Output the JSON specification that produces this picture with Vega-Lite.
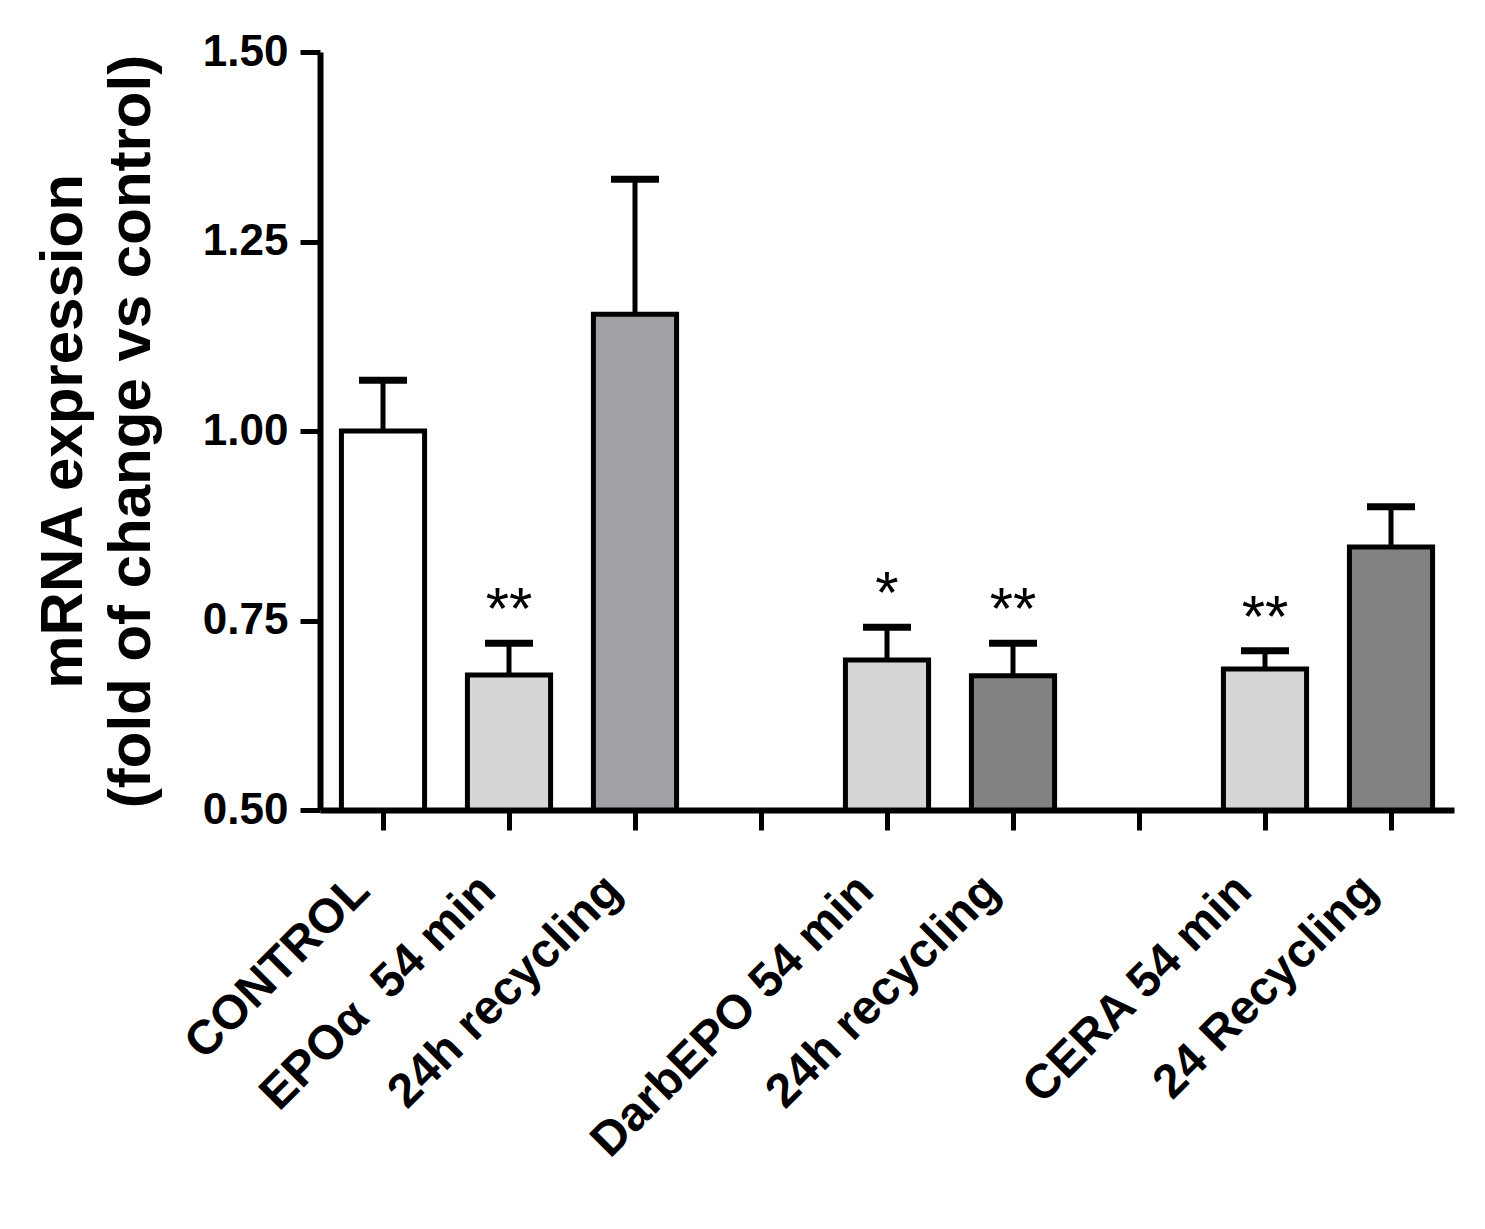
{
  "$schema": "https://vega.github.io/schema/vega-lite/v6.json",
  "width": 1134,
  "height": 758,
  "autosize": "none",
  "padding": {"left": 320, "top": 52, "right": 31, "bottom": 419},
  "background": "white",
  "config": {"view": {"stroke": null}, "font": "Liberation Sans"},
  "data": {
    "values": [
      {"k": "1|CONTROL", "v": 1.0, "hi": 1.067, "grp": "control", "sig": ""},
      {"k": "2|EPOα\u00a0 54 min", "v": 0.678, "hi": 0.72, "grp": "light", "sig": "**"},
      {"k": "3|24h recycling", "v": 1.154, "hi": 1.332, "grp": "mid", "sig": ""},
      {"k": "5|DarbEPO 54 min", "v": 0.698, "hi": 0.741, "grp": "light", "sig": "*"},
      {"k": "6|24h recycling", "v": 0.677, "hi": 0.72, "grp": "dark", "sig": "**"},
      {"k": "8|CERA 54 min", "v": 0.686, "hi": 0.71, "grp": "light", "sig": "**"},
      {"k": "9|24 Recycling", "v": 0.847, "hi": 0.9, "grp": "dark", "sig": ""}
    ]
  },
  "encoding": {
    "x": {
      "field": "k",
      "type": "nominal",
      "sort": null,
      "scale": {
        "domain": ["1|CONTROL", "2|EPOα\u00a0 54 min", "3|24h recycling", "4|", "5|DarbEPO 54 min", "6|24h recycling", "7|", "8|CERA 54 min", "9|24 Recycling"],
        "paddingInner": 0,
        "paddingOuter": 0
      },
      "axis": {
        "title": null,
        "labelExpr": "split(datum.label, '|')[1]",
        "labelAngle": -45,
        "labelFont": "Liberation Sans",
        "labelFontWeight": "bold",
        "labelFontSize": 48,
        "labelColor": "black",
        "labelPadding": 36,
        "labelOffset": -38,
        "labelLimit": 0,
        "domainColor": "black",
        "domainWidth": 6,
        "tickColor": "black",
        "tickWidth": 5,
        "tickSize": 20,
        "grid": false
      }
    }
  },
  "layer": [
    {
      "mark": {"type": "bar", "stroke": "black", "strokeWidth": 5, "width": {"band": 0.66}},
      "encoding": {
        "y": {
          "field": "v",
          "type": "quantitative",
          "scale": {"domain": [0.5, 1.5], "nice": false, "zero": false},
          "axis": {
            "title": ["mRNA expression", "(fold of change vs control)"],
            "titleFont": "Liberation Sans",
            "titleFontSize": 60,
            "titleFontWeight": "bold",
            "titleColor": "black",
            "titleLineHeight": 68,
            "titlePadding": 40,
            "values": [0.5, 0.75, 1.0, 1.25, 1.5],
            "format": ".2f",
            "labelFont": "Liberation Sans",
            "labelFontWeight": "bold",
            "labelFontSize": 44,
            "labelColor": "black",
            "labelPadding": 12,
            "domainColor": "black",
            "domainWidth": 6,
            "tickColor": "black",
            "tickWidth": 5,
            "tickSize": 20,
            "grid": false
          }
        },
        "y2": {"datum": 0.5},
        "color": {
          "field": "grp",
          "type": "nominal",
          "scale": {"domain": ["control", "light", "mid", "dark"], "range": ["#ffffff", "#d6d6d6", "#a2a1a6", "#828282"]},
          "legend": null
        }
      }
    },
    {
      "mark": {"type": "rule", "color": "black", "strokeWidth": 5},
      "encoding": {
        "y": {"field": "v", "type": "quantitative"},
        "y2": {"field": "hi"}
      }
    },
    {
      "mark": {"type": "tick", "color": "black", "opacity": 1, "orient": "horizontal", "size": 48, "thickness": 7},
      "encoding": {
        "y": {"field": "hi", "type": "quantitative"}
      }
    },
    {
      "mark": {"type": "text", "font": "Liberation Sans", "fontSize": 60, "color": "black", "baseline": "alphabetic", "dy": -14},
      "encoding": {
        "y": {"field": "hi", "type": "quantitative"},
        "text": {"field": "sig"}
      }
    }
  ]
}
